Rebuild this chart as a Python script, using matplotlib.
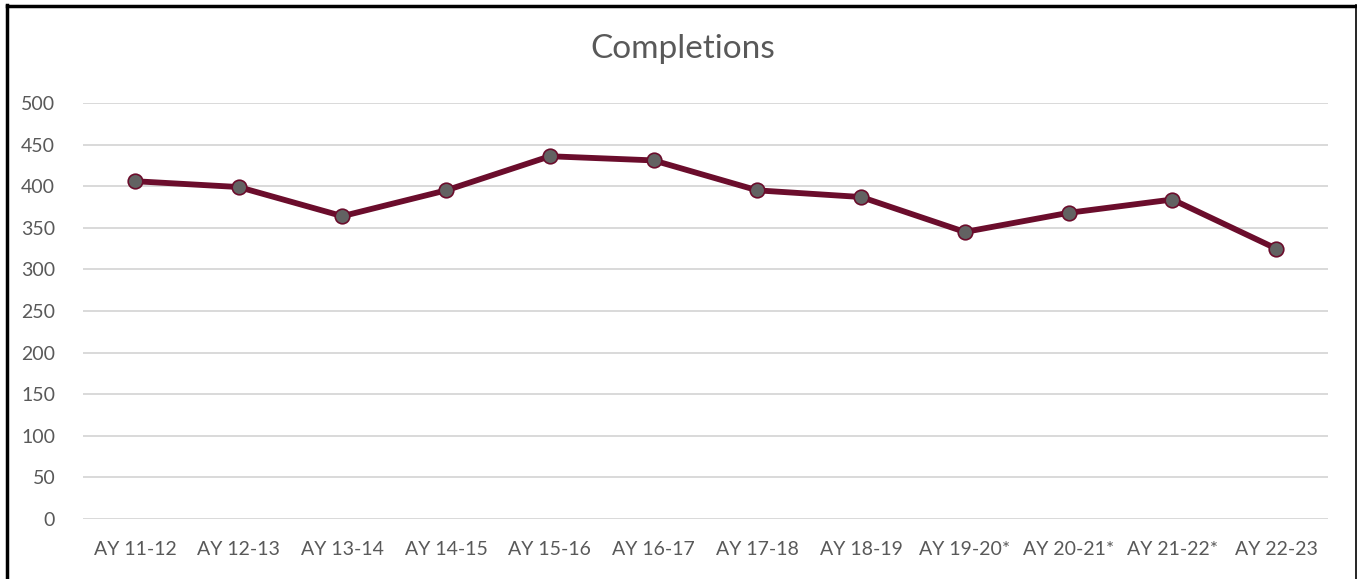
import matplotlib
matplotlib.use("Agg")
import matplotlib.pyplot as plt
from matplotlib.lines import Line2D

years = ['AY 11-12', 'AY 12-13', 'AY 13-14', 'AY 14-15', 'AY 15-16', 'AY 16-17',
         'AY 17-18', 'AY 18-19', 'AY 19-20*', 'AY 20-21*', 'AY 21-22*', 'AY 22-23']
completions = [406, 399, 364, 395, 436, 431, 395, 387, 345, 368, 384, 325]
yticks = [0, 50, 100, 150, 200, 250, 300, 350, 400, 450, 500]

plt.rcParams['font.family'] = ['Lato', 'DejaVu Sans']
txt_color = '#595959'

fig = plt.figure(figsize=(13.57, 5.79), dpi=100)
ax = fig.add_axes([83/1357, 1-519/579, (1328-83)/1357, (519-103)/579])

x = range(len(years))
ax.plot(x, completions, '-', color='#6b0d2c', lw=4.2, zorder=3,
        marker='o', markersize=10.5, markerfacecolor='#626262',
        markeredgecolor='#6b0d2c', markeredgewidth=1.2)

ax.set_xlim(-0.5, len(years)-0.5)
ax.set_ylim(0, 500)
ax.set_yticks(yticks)
ax.set_xticks(list(x))
ax.set_xticklabels(years)
ax.yaxis.grid(True, color='#d9d9d9', lw=1.4)
ax.set_axisbelow(True)
for s in ax.spines.values():
    s.set_visible(False)
ax.tick_params(axis='both', length=0, labelsize=14, colors=txt_color)
ax.tick_params(axis='y', pad=20)
ax.tick_params(axis='x', pad=16)

fig.text(0.503, 1-49/579, 'Completions', ha='center', va='center',
         fontsize=24, color=txt_color)

# outer frame of the chart
fig.add_artist(Line2D([7/1357, 7/1357], [0, 1-5/579], color='black', lw=2.5, transform=fig.transFigure))
fig.add_artist(Line2D([7/1357, 1356/1357], [1-5.5/579, 1-5.5/579], color='black', lw=2.5, transform=fig.transFigure))
fig.add_artist(Line2D([1355.5/1357, 1355.5/1357], [0, 1-5/579], color='black', lw=1.2, transform=fig.transFigure))

fig.savefig('out.png', dpi=100)
